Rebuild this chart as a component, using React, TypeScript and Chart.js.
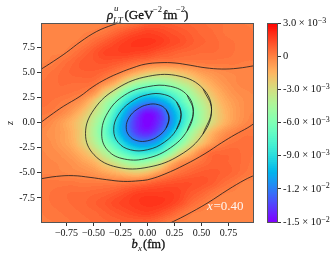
import React, { useEffect, useRef } from "react";
import { Chart, registerables } from "chart.js";

Chart.register(...registerables);

const SERIF = "'Liberation Serif', serif";

// Impact-parameter nodes (fm) and z nodes of the estimated density grid
const bxNodes = [-1, -0.9, -0.8, -0.7, -0.6, -0.5, -0.4, -0.3, -0.2, -0.1, 0, 0.1, 0.2, 0.3, 0.4, 0.5, 0.6, 0.7, 0.8, 0.9, 1];
const zNodes = [10, 9, 8, 7, 6, 5, 4, 3, 2, 1, 0, -1, -2, -3, -4, -5, -6, -7, -8, -9, -10];

// Density values, in units of 1e-4
const densityRows = [
  [-2, -2, -2, -2, -2, -2, -1, -1, 1, 4, 8, 9, 8, 7, 6, 5, 4, 3, 2, 1, 1],
  [-2, -2, -2, -2, -1, 0, 2, 6, 10, 13, 15, 14, 12, 10, 8, 6, 5, 3, 2, 2, 1],
  [-2, -2, -2, -1, 1, 5, 9, 13, 16, 18, 18, 17, 14, 12, 9, 7, 6, 4, 3, 2, 2],
  [-2, -1, -1, 2, 6, 10, 14, 15, 16, 15, 14, 11, 9, 7, 6, 5, 5, 4, 3, 2, 2],
  [-1, 0, 3, 6, 9, 10, 11, 10, 8, 5, 3, 1, 1, 1, 1, 2, 2, 2, 2, 1, 1],
  [1, 3, 5, 7, 8, 8, 6, 2, -4, -12, -19, -22, -22, -18, -13, -8, -5, -3, -2, -2, -1],
  [3, 4, 5, 5, 5, 4, -3, -12, -28, -42, -50, -52, -47, -38, -29, -18, -11, -6, -3, -1, -1],
  [4, 4, 4, 3, 1, -5, -22, -38, -62, -78, -86, -84, -74, -61, -45, -29, -18, -10, -5, -3, -2],
  [4, 3, 1, -2, -8, -22, -42, -62, -88, -107, -118, -114, -100, -77, -57, -40, -25, -14, -8, -4, -3],
  [2, 1, -2, -8, -18, -32, -50, -80, -108, -133, -146, -139, -116, -92, -67, -46, -29, -17, -9, -4, -2],
  [0, -3, -8, -15, -25, -40, -62, -90, -118, -140, -150, -140, -120, -92, -65, -44, -28, -16, -8, -3, 0],
  [-3, -5, -8, -14, -25, -43, -66, -92, -116, -136, -142, -130, -106, -78, -50, -30, -15, -6, -1, 2, 2],
  [-3, -4, -8, -13, -24, -38, -58, -78, -100, -114, -117, -106, -81, -60, -36, -20, -8, 0, 3, 4, 4],
  [-2, -3, -5, -9, -16, -26, -41, -58, -74, -84, -85, -76, -56, -31, -15, -2, 5, 6, 6, 4, 3],
  [-2, -2, -3, -5, -9, -14, -24, -34, -45, -52, -48, -38, -18, -5, 0, 4, 7, 7, 6, 4, 2],
  [-1, -1, -2, -3, -4, -6, -10, -14, -19, -22, -18, -9, -1, 4, 7, 9, 9, 8, 6, 3, 1],
  [2, 2, 2, 2, 1, 1, 1, 1, 2, 3, 6, 9, 11, 12, 12, 11, 9, 5, 2, -1, -1],
  [2, 3, 4, 5, 5, 6, 7, 9, 12, 15, 16, 16, 16, 14, 10, 7, 3, 0, -1, -2, -2],
  [2, 3, 4, 5, 6, 8, 10, 13, 15, 17, 18, 18, 16, 12, 6, 2, -1, -2, -2, -2, -2],
  [1, 2, 3, 4, 5, 6, 8, 10, 12, 14, 15, 13, 9, 4, 0, -1, -2, -2, -2, -2, -2],
  [1, 1, 2, 3, 4, 5, 6, 7, 8, 8, 8, 5, 1, -1, -1, -2, -2, -2, -2, -2, -2],
];

// Contour lines: [bx, z]
const lineTopLeft = [[-1, 5.2], [-0.872, 6.08], [-0.748, 6.99], [-0.625, 8.0], [-0.47, 9.06], [-0.317, 9.73], [-0.2, 10.1]];
const lineUpper = [[-1, -0.1], [-0.903, 0.68], [-0.78, 1.6], [-0.625, 2.6], [-0.505, 3.56], [-0.378, 4.36], [-0.255, 4.96], [-0.134, 5.45], [-0.023, 5.8], [0.116, 5.95], [0.255, 5.92], [0.394, 5.7], [0.532, 5.45], [0.687, 5.32], [0.838, 5.4], [1, 5.67]];
const lineLower = [[-1, -5.62], [-0.841, -5.36], [-0.687, -5.29], [-0.532, -5.46], [-0.378, -5.69], [-0.224, -5.86], [-0.069, -5.79], [0.023, -5.64], [0.162, -5.12], [0.347, -4.2], [0.532, -3.1], [0.687, -2.01], [0.81, -1.21], [0.928, -0.52], [1, 0]];
const lineBottomRight = [[0.2, -10.05], [0.347, -9.27], [0.56, -7.98], [0.745, -6.69], [0.903, -5.69], [1, -5.2]];
const loop3 = [[0.593, 1.27], [0.514, 3.37], [0.301, 4.6], [0.009, 4.6], [-0.282, 3.39], [-0.495, 1.3], [-0.574, -1.11], [-0.495, -3.21], [-0.282, -4.44], [0.009, -4.44], [0.301, -3.24], [0.514, -1.14]];
const loop6 = [[0.424, 1.1], [0.368, 2.72], [0.212, 3.6], [0, 3.56], [-0.212, 2.72], [-0.368, 0.98], [-0.424, -1.14], [-0.368, -2.77], [-0.212, -3.64], [0, -3.55], [0.212, -2.52], [0.368, -0.82]];
const loop9 = [[0.311, 0.78], [0.269, 2.05], [0.156, 2.78], [0, 2.77], [-0.157, 2.02], [-0.271, 0.75], [-0.313, -0.72], [-0.271, -1.99], [-0.157, -2.72], [0, -2.71], [0.156, -1.96], [0.269, -0.69]];
const loop12 = [[0.199, 0.43], [0.173, 1.27], [0.101, 1.77], [0.002, 1.78], [-0.097, 1.31], [-0.17, 0.5], [-0.197, -0.47], [-0.17, -1.31], [-0.097, -1.81], [0.002, -1.82], [0.101, -1.35], [0.173, -0.54]];
const openLines = [lineTopLeft, lineUpper, lineLower, lineBottomRight];
const closedLines = [loop3, loop6, loop9, loop12];

// Axis ticks
const bxTicks = [-0.75, -0.5, -0.25, 0, 0.25, 0.5, 0.75];
const bxTickLabels = ["\u22120.75", "\u22120.50", "\u22120.25", "0.00", "0.25", "0.50", "0.75"];
const zTicks = [-7.5, -5, -2.5, 0, 2.5, 5, 7.5];
const zTickLabels = ["-7.5", "-5.0", "-2.5", "0.0", "2.5", "5.0", "7.5"];
const cbTicks = [-0.015, -0.012, -0.009, -0.006, -0.003, 0, 0.003];
const cbTickLabels = ["-1.5 \u00d7 10", "-1.2 \u00d7 10", "-9.0 \u00d7 10", "-6.0 \u00d7 10", "-3.0 \u00d7 10", "0", "3.0 \u00d7 10"];
const cbTickExponents = ["\u22122", "\u22122", "\u22123", "\u22123", "\u22123", "", "\u22123"];
const vMin = -0.015;
const vMax = 0.003;
const bandCount = 100;

function rainbowRgb(t: number): number[] {
  const r = Math.min(1, Math.abs(2 * t - 0.5));
  const g = Math.sin(Math.PI * t);
  const b = Math.max(0, Math.cos((Math.PI * t) / 2));
  return [r * 255, g * 255, b * 255];
}
function rainbow(t: number): string {
  const c = rainbowRgb(t);
  return `rgb(${Math.round(c[0])},${Math.round(c[1])},${Math.round(c[2])})`;
}
function catmull(a: number, b: number, c: number, d: number, t: number) {
  return 0.5 * (2 * b + (c - a) * t + (2 * a - 5 * b + 4 * c - d) * t * t + (3 * b - a - 3 * c + d) * t * t * t);
}

// Paints the grid dataset through the chart's scales as a banded filled field
const fieldPlugin = {
  id: "field",
  beforeDatasetsDraw(chart: any) {
    const { ctx, chartArea: a, scales } = chart;
    const pts = chart.data.datasets[0].data as { x: number; y: number; v: number }[];
    const nx = bxNodes.length;
    const ny = zNodes.length;
    const at = (i: number, j: number) =>
      pts[Math.max(0, Math.min(ny - 1, j)) * nx + Math.max(0, Math.min(nx - 1, i))].v;
    const w = Math.round(a.right - a.left);
    const h = Math.round(a.bottom - a.top);
    const off = document.createElement("canvas");
    off.width = w;
    off.height = h;
    const oc = off.getContext("2d")!;
    const img = oc.createImageData(w, h);
    for (let py = 0; py < h; py++) {
      const zv = scales.y.getValueForPixel(a.top + py + 0.5);
      const fy = (zNodes[0] - zv) / (zNodes[0] - zNodes[1]);
      const j = Math.floor(fy);
      const ty = fy - j;
      for (let px = 0; px < w; px++) {
        const bx = scales.x.getValueForPixel(a.left + px + 0.5);
        const fx = (bx - bxNodes[0]) / (bxNodes[1] - bxNodes[0]);
        const i = Math.floor(fx);
        const tx = fx - i;
        const col = [0, 1, 2, 3].map((k) =>
          catmull(at(i - 1, j - 1 + k), at(i, j - 1 + k), at(i + 1, j - 1 + k), at(i + 2, j - 1 + k), tx)
        );
        const v = catmull(col[0], col[1], col[2], col[3], ty) * 1e-4;
        const t = Math.max(0, Math.min(1, (v - vMin) / (vMax - vMin)));
        const q = (Math.floor(t * bandCount) + 0.5) / bandCount;
        const c = rainbowRgb(q);
        const o = (py * w + px) * 4;
        img.data[o] = c[0];
        img.data[o + 1] = c[1];
        img.data[o + 2] = c[2];
        img.data[o + 3] = 255;
      }
    }
    oc.putImageData(img, 0, 0);
    ctx.drawImage(off, a.left, a.top);
  },
  afterDatasetsDraw(chart: any) {
    const { ctx, chartArea: a } = chart;
    ctx.save();
    ctx.strokeStyle = "#555";
    ctx.lineWidth = 1;
    ctx.strokeRect(a.left + 0.5, a.top + 0.5, a.right - a.left - 1, a.bottom - a.top);
    ctx.restore();
  },
  afterDraw(chart: any) {
    const { ctx } = chart;
    const put = (s: string, x: number, y: number, font: string, color = "#111", heavy = 0) => {
      ctx.font = font;
      ctx.fillStyle = color;
      ctx.fillText(s, x, y);
      if (heavy) {
        ctx.strokeStyle = color;
        ctx.lineWidth = heavy;
        ctx.strokeText(s, x, y);
      }
    };
    ctx.save();
    ctx.textBaseline = "alphabetic";
    ctx.textAlign = "left";
    const r = `13px ${SERIF}`;
    const it = `italic 13px ${SERIF}`;
    const small = `8.5px ${SERIF}`;
    const smallIt = `italic 9px ${SERIF}`;
    // title
    put("\u03c1", 107, 19, it, "#111", 0.3);
    put("u", 114, 11, smallIt);
    put("LT", 113, 23, smallIt);
    put("(GeV", 124.5, 19, r, "#111", 0.3);
    put("\u22122", 153, 12, small);
    put("fm", 163, 19, r, "#111", 0.3);
    put("\u22122", 176, 12, small);
    put(")", 184, 19, r, "#111", 0.3);
    // x label
    put("b", 131.5, 248, `italic 12.5px ${SERIF}`, "#111", 0.3);
    put("x", 138, 251, smallIt);
    put("(fm)", 143, 248, `12.5px ${SERIF}`, "#111", 0.3);
    // y label
    ctx.save();
    ctx.translate(13, 123);
    ctx.rotate(-Math.PI / 2);
    ctx.textAlign = "center";
    put("z", 0, 0, `italic 10px ${SERIF}`);
    ctx.restore();
    // annotation
    put("x", 207, 210, `italic 13px ${SERIF}`, "rgba(255,255,255,0.92)");
    put("=0.40", 213.5, 210, `13px ${SERIF}`, "rgba(255,255,255,0.92)");
    ctx.restore();
  },
};

const cbFramePlugin = {
  id: "cbFrame",
  afterDatasetsDraw(chart: any) {
    const { ctx, chartArea: a } = chart;
    ctx.save();
    ctx.strokeStyle = "#555";
    ctx.lineWidth = 1;
    ctx.strokeRect(a.left + 0.5, a.top + 0.5, a.right - a.left, a.bottom - a.top);
    ctx.restore();
  },
  afterDraw(chart: any) {
    const { ctx, chartArea: a, scales } = chart;
    ctx.save();
    ctx.textBaseline = "alphabetic";
    ctx.textAlign = "left";
    ctx.fillStyle = "#111";
    cbTicks.forEach((tick, i) => {
      if (!cbTickExponents[i]) return;
      ctx.font = `10.5px ${SERIF}`;
      const w = ctx.measureText(cbTickLabels[i]).width;
      ctx.font = `8px ${SERIF}`;
      ctx.fillText(cbTickExponents[i], a.right + 6 + w, scales.y.getPixelForValue(tick) - 0.5);
    });
    ctx.restore();
  },
};

export default function App() {
  const mainRef = useRef<HTMLCanvasElement>(null);
  const cbRef = useRef<HTMLCanvasElement>(null);

  useEffect(() => {
    document.body.style.margin = "0";
    const fieldData: { x: number; y: number; v: number }[] = [];
    zNodes.forEach((z, j) =>
      bxNodes.forEach((b, i) => fieldData.push({ x: b, y: z, v: densityRows[j][i] }))
    );
    const tickFont = { family: SERIF, size: 10 };
    const tickGrid = { drawOnChartArea: false, drawTicks: true, tickLength: 4, tickWidth: 1, tickColor: "#333" };
    const lineStyle = {
      showLine: true,
      pointRadius: 0,
      borderColor: "rgba(30,30,30,0.85)",
      borderWidth: 0.95,
      tension: 0.4,
      fill: false,
      order: 1,
    };
    const main = new Chart(mainRef.current!, {
      type: "scatter",
      data: {
        datasets: [
          { label: "density", data: fieldData, pointRadius: 0, showLine: false, order: 10 } as any,
          ...openLines.map((line, k) => ({
            ...lineStyle,
            label: `line ${k}`,
            data: line.map(([x, y]) => ({ x, y })),
          })),
          // Closed loops wrap round by one point at each end so the curve has no seam
          ...closedLines.map((line, k) => ({
            ...lineStyle,
            label: `loop ${k}`,
            data: [line[line.length - 1], ...line, line[0], line[1]].map(([x, y]) => ({ x, y })),
          })),
        ],
      },
      options: {
        responsive: false,
        animation: false,
        events: [],
        layout: { padding: { left: 0, top: 23, right: 81, bottom: 0 } },
        plugins: { legend: { display: false }, tooltip: { enabled: false }, title: { display: false } },
        scales: {
          x: {
            type: "linear",
            min: -0.986,
            max: 0.986,
            grid: tickGrid,
            border: { display: false },
            afterFit: (s: any) => { s.height = 36; },
            afterBuildTicks: (s: any) => { s.ticks = bxTicks.map((value) => ({ value })); },
            ticks: {
              autoSkip: false,
              maxRotation: 0,
              padding: 1,
              color: "#111",
              font: tickFont,
              callback: (v: any) => bxTickLabels[bxTicks.indexOf(v)],
            },
          },
          y: {
            type: "linear",
            min: -9.9,
            max: 9.9,
            grid: tickGrid,
            border: { display: false },
            afterFit: (s: any) => { s.width = 41; },
            afterBuildTicks: (s: any) => { s.ticks = zTicks.map((value) => ({ value })); },
            ticks: {
              autoSkip: false,
              padding: 2,
              color: "#111",
              font: tickFont,
              callback: (v: any) => zTickLabels[zTicks.indexOf(v)],
            },
          },
        },
      } as any,
      plugins: [fieldPlugin as any],
    });

    // Colour bar: one floating bar per band, lowest drawn on top
    const bandTops: number[] = [];
    for (let i = 0; i < bandCount; i++) bandTops.push(vMin + ((i + 1) * (vMax - vMin)) / bandCount);
    const bar = new Chart(cbRef.current!, {
      type: "bar",
      data: {
        labels: ["scale"],
        datasets: bandTops.map((top, i) => ({
          label: `band ${i}`,
          data: [[vMin, top]],
          backgroundColor: rainbow((i + 0.5) / bandCount),
          borderWidth: 0,
          grouped: false,
          barPercentage: 1,
          categoryPercentage: 1,
        })) as any,
      },
      options: {
        responsive: false,
        animation: false,
        events: [],
        layout: { padding: { left: 12, top: 23, right: 0, bottom: 36 } },
        plugins: { legend: { display: false }, tooltip: { enabled: false } },
        scales: {
          x: { display: false },
          y: {
            type: "linear",
            position: "right",
            min: vMin,
            max: vMax,
            grid: tickGrid,
            border: { display: false },
            afterFit: (s: any) => { s.width = 58; },
            afterBuildTicks: (s: any) => { s.ticks = cbTicks.map((value) => ({ value })); },
            ticks: {
              autoSkip: false,
              padding: 2,
              color: "#111",
              font: { family: SERIF, size: 10.5 },
              callback: (v: any) => cbTickLabels[cbTicks.findIndex((c) => Math.abs(c - v) < 1e-9)],
            },
          },
        },
      } as any,
      plugins: [cbFramePlugin as any],
    });
    return () => {
      main.destroy();
      bar.destroy();
    };
  }, []);

  return (
    <div style={{ position: "relative", width: 335, height: 258, overflow: "hidden" }}>
      <canvas ref={mainRef} width={335} height={258} style={{ position: "absolute", left: 0, top: 0 }} />
      <canvas ref={cbRef} width={80} height={258} style={{ position: "absolute", left: 255, top: 0 }} />
    </div>
  );
}
